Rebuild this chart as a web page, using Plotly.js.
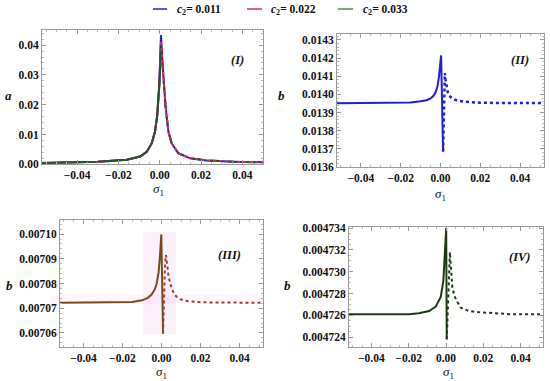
<!DOCTYPE html>
<html><head><meta charset="utf-8">
<script src="https://cdn.plot.ly/plotly-3.0.1.min.js"></script>
<style>html,body{margin:0;padding:0;background:#fff}#chart{width:550px;height:381px}</style>
</head><body><div id="chart"></div>
<script>
// ---- data ----
const legendLabels = ['0.011', '0.022', '0.033'];
const seriesColors = ['#1f1fd6', '#e8244a', '#3d9a4d'];

// Panel (I): a vs sigma1 for the three c2 values
const sigmaI = [-0.057, -0.045, -0.03, -0.016, -0.0095, -0.0063, -0.0039, -0.0023, -0.0012, -0.0002, 0.0006, 0.0017, 0.0029, 0.0042, 0.0058, 0.009, 0.0147, 0.0228, 0.0356, 0.05];
const aC011 = [0.00044, 0.00054, 0.00085, 0.0015, 0.0026, 0.0042, 0.0070, 0.0109, 0.0165, 0.0268, 0.0434, 0.0302, 0.0188, 0.0109, 0.0070, 0.0037, 0.0020, 0.0013, 0.00087, 0.00067];
const aC022 = [0.00044, 0.00054, 0.00085, 0.0015, 0.0026, 0.0042, 0.0070, 0.0109, 0.0165, 0.0266, 0.0410, 0.0300, 0.0188, 0.0109, 0.0070, 0.0037, 0.0020, 0.0013, 0.00087, 0.00067];
const aC033 = [0.00044, 0.00054, 0.00085, 0.0015, 0.0026, 0.0042, 0.0070, 0.0109, 0.0165, 0.0265, 0.0400, 0.0298, 0.0188, 0.0109, 0.0070, 0.0037, 0.0020, 0.0013, 0.00087, 0.00067];
const peakIndexI = 10;

// Panel (II): b vs sigma1, c2 = 0.011
const sigmaIIsolid = [-0.052, -0.04, -0.03, -0.02, -0.015, -0.01, -0.007, -0.005, -0.0035, -0.0025, -0.0015, -0.0008, -0.0003, 0, 0.0003, 0.0013];
const bIIsolid = [0.013952, 0.013952, 0.013953, 0.013954, 0.013956, 0.013962, 0.013968, 0.013978, 0.013992, 0.014012, 0.014045, 0.014095, 0.014140, 0.014175, 0.014215, 0.013685];
const sigmaIIdot = [0.0013, 0.0016, 0.0019, 0.0022, 0.0026, 0.003, 0.0037, 0.0045, 0.0055, 0.007, 0.009, 0.012, 0.016, 0.02, 0.03, 0.04, 0.052];
const bIIdot = [0.013685, 0.013900, 0.014080, 0.014118, 0.014075, 0.014040, 0.014010, 0.013993, 0.013982, 0.013972, 0.013965, 0.013960, 0.013956, 0.013954, 0.013953, 0.013952, 0.013952];

// Panel (III): b vs sigma1, c2 = 0.022
const sigmaIIIsolid = [-0.052, -0.04, -0.03, -0.02, -0.015, -0.01, -0.007, -0.005, -0.0035, -0.0025, -0.0015, -0.0008, -0.0004, -0.0001, 0.0008];
const bIIIsolid = [0.0070722, 0.0070722, 0.0070722, 0.0070723, 0.0070725, 0.0070732, 0.0070742, 0.0070756, 0.0070775, 0.0070798, 0.0070845, 0.0070910, 0.0070960, 0.0070998, 0.0070598];
const sigmaIIIdot = [0.0008, 0.0013, 0.0018, 0.0023, 0.003, 0.0037, 0.0047, 0.006, 0.0075, 0.0095, 0.012, 0.016, 0.02, 0.03, 0.04, 0.052];
const bIIIdot = [0.0070598, 0.0070760, 0.0070880, 0.0070915, 0.0070860, 0.0070825, 0.0070795, 0.0070765, 0.0070748, 0.0070737, 0.0070730, 0.0070726, 0.0070724, 0.0070723, 0.0070722, 0.0070722];

// Panel (IV): b vs sigma1, c2 = 0.033
const sigmaIVsolid = [-0.052, -0.04, -0.03, -0.02, -0.0145, -0.009, -0.0055, -0.0028, -0.0014, -0.0005, 0.0001, 0.0004];
const bIVsolid = [0.0047261, 0.0047261, 0.0047261, 0.0047261, 0.0047262, 0.0047264, 0.0047268, 0.0047277, 0.0047292, 0.0047317, 0.0047340, 0.0047238];
const sigmaIVdot = [0.0004, 0.0018, 0.0021, 0.0024, 0.0029, 0.0034, 0.0045, 0.0055, 0.0079, 0.0123, 0.0168, 0.025, 0.035, 0.052];
const bIVdot = [0.0047238, 0.0047300, 0.0047318, 0.0047310, 0.0047295, 0.0047286, 0.0047278, 0.0047274, 0.0047267, 0.0047264, 0.0047263, 0.0047262, 0.0047261, 0.0047261];

const panelLabels = ['(I)', '(II)', '(III)', '(IV)'];

// ---- styling ----
const SERIF = 'Liberation Serif';
const blue = seriesColors[0], red = seriesColors[1], green = seriesColors[2];
const darkGreen = '#22552a';
const brown = '#7a4a1e', brownDot = '#9b3b2a';
const olive = '#1f3a12';

const left = (arr, k) => arr.slice(0, k + 1);
const right = (arr, k) => arr.slice(k);

function line(x, y, xa, ya, color, dash, width) {
  return {x: x, y: y, xaxis: xa, yaxis: ya, type: 'scatter', mode: 'lines',
    line: {color: color, dash: dash || 'solid', width: width || 2},
    hoverinfo: 'skip', showlegend: false};
}

const traces = [
  line(sigmaI, aC011, 'x', 'y', blue, 'solid', 2),
  line(left(sigmaI, peakIndexI), left(aC022, peakIndexI), 'x', 'y', red, 'solid', 2),
  line(left(sigmaI, peakIndexI), left(aC033, peakIndexI), 'x', 'y', darkGreen, 'solid', 2),
  line(right(sigmaI, peakIndexI), right(aC033, peakIndexI), 'x', 'y', darkGreen, 'dash', 2),
  line(right(sigmaI, peakIndexI), right(aC022, peakIndexI), 'x', 'y', red, 'dot', 2),

  line(sigmaIIsolid, bIIsolid, 'x2', 'y2', blue, 'solid', 2),
  line(sigmaIIdot, bIIdot, 'x2', 'y2', blue, 'dot', 2.5),

  line(sigmaIIIsolid, bIIIsolid, 'x3', 'y3', brown, 'solid', 2),
  line(sigmaIIIdot, bIIIdot, 'x3', 'y3', brownDot, 'dot', 2),

  line(sigmaIVsolid, bIVsolid, 'x4', 'y4', olive, 'solid', 2),
  line(sigmaIVdot, bIVdot, 'x4', 'y4', olive, '3px,3px', 2)
];

const W = 550, H = 381;
const px = v => v / W, py = v => 1 - v / H;

const tickFont = {family: SERIF, size: 11.5, color: '#111', weight: 'bold'};
const common = {
  ticks: 'inside', ticklen: 4, tickcolor: '#999', tickwidth: 1,
  showline: true, mirror: 'allticks', linecolor: '#999', linewidth: 1,
  showgrid: false, zeroline: false, tickfont: tickFont, fixedrange: true, automargin: false
};
function xAxis(domain, range, anchor) {
  return Object.assign({domain: domain, range: range, anchor: anchor, dtick: 0.02, tick0: 0, tickformat: '.2f',
    minor: {ticks: 'inside', ticklen: 2, tickcolor: '#bbb', dtick: 0.005}}, common);
}
function yAxis(domain, range, anchor, dtick, fmt, mdtick) {
  return Object.assign({domain: domain, range: range, anchor: anchor, dtick: dtick, tick0: 0, tickformat: fmt,
    minor: {ticks: 'inside', ticklen: 2, tickcolor: '#bbb', dtick: mdtick}}, common);
}

const annFont = {family: SERIF, size: 13, color: '#111', weight: 'bold', style: 'italic'};
function txt(x, y, text, font, xanchor) {
  return {xref: 'paper', yref: 'paper', x: px(x), y: py(y), text: text, showarrow: false,
    xanchor: xanchor || 'center', yanchor: 'middle', font: font || annFont};
}
const sigmaLabel = '<i>σ</i><sub>1</sub>';
const sigFont = {family: SERIF, size: 13, color: '#111'};
const legFont = {family: SERIF, size: 11.5, color: '#111', weight: 'bold'};
const panelFont = {family: SERIF, size: 12.5, color: '#111', weight: 'bold', style: 'italic'};

const annotations = [
  txt(175, 10, '<i>c</i><sub>2</sub>= ' + legendLabels[0], legFont, 'left'),
  txt(269, 10, '<i>c</i><sub>2</sub>= ' + legendLabels[1], legFont, 'left'),
  txt(361, 10, '<i>c</i><sub>2</sub>= ' + legendLabels[2], legFont, 'left'),
  txt(8, 95, 'a', annFont), txt(158, 189, sigmaLabel, sigFont),
  txt(281, 95, 'b', annFont), txt(441, 194, sigmaLabel, sigFont),
  txt(9, 285, 'b', annFont), txt(161, 372, sigmaLabel, sigFont),
  txt(287, 285, 'b', annFont), txt(448, 372, sigmaLabel, sigFont),
  txt(237, 60, panelLabels[0], panelFont), txt(520, 60, panelLabels[1], panelFont),
  txt(230, 255, panelLabels[2], panelFont), txt(520, 257, panelLabels[3], panelFont)
];

const shapes = [
  {type: 'line', xref: 'paper', yref: 'paper', x0: px(153), x1: px(167), y0: py(9), y1: py(9), line: {color: blue, width: 1.5}},
  {type: 'line', xref: 'paper', yref: 'paper', x0: px(247), x1: px(262), y0: py(9), y1: py(9), line: {color: red, width: 1.5}},
  {type: 'line', xref: 'paper', yref: 'paper', x0: px(338), x1: px(353), y0: py(9), y1: py(9), line: {color: green, width: 1.5}},
  // faint pink rendering halo in panel (III)
  {type: 'rect', xref: 'paper', yref: 'paper', x0: px(50), x1: px(264), y0: py(304), y1: py(295), layer: 'below', line: {width: 0}, fillcolor: 'rgba(245,170,235,0.12)'},
  {type: 'rect', xref: 'paper', yref: 'paper', x0: px(143), x1: px(176), y0: py(334), y1: py(232), layer: 'below', line: {width: 0}, fillcolor: 'rgba(245,170,235,0.16)'}
];

const layout = {
  width: W, height: H, margin: {l: 0, r: 0, t: 0, b: 0},
  paper_bgcolor: '#fff', plot_bgcolor: 'rgba(0,0,0,0)', showlegend: false,
  xaxis: xAxis([px(42), px(263)], [-0.057, 0.05], 'y'),
  yaxis: yAxis([py(164.3), py(30)], [0, 0.04507], 'x', 0.01, '.2f', 0.002),
  xaxis2: xAxis([px(337), px(544)], [-0.052, 0.052], 'y2'),
  yaxis2: yAxis([py(167), py(34)], [0.0136, 0.014333], 'x2', 0.0001, '.4f', 0.00002),
  xaxis3: xAxis([px(60), px(263)], [-0.052, 0.052], 'y3'),
  yaxis3: yAxis([py(347), py(220)], [0.0070543, 0.0071057], 'x3', 0.00001, '.5f', 0.000002),
  xaxis4: xAxis([px(349), px(543)], [-0.052, 0.052], 'y4'),
  yaxis4: yAxis([py(347), py(227)], [0.0047231, 0.0047341], 'x4', 0.000002, '.6f', 0.0000005),
  annotations: annotations, shapes: shapes
};

Plotly.newPlot('chart', traces, layout, {staticPlot: true, displayModeBar: false});
</script></body></html>
